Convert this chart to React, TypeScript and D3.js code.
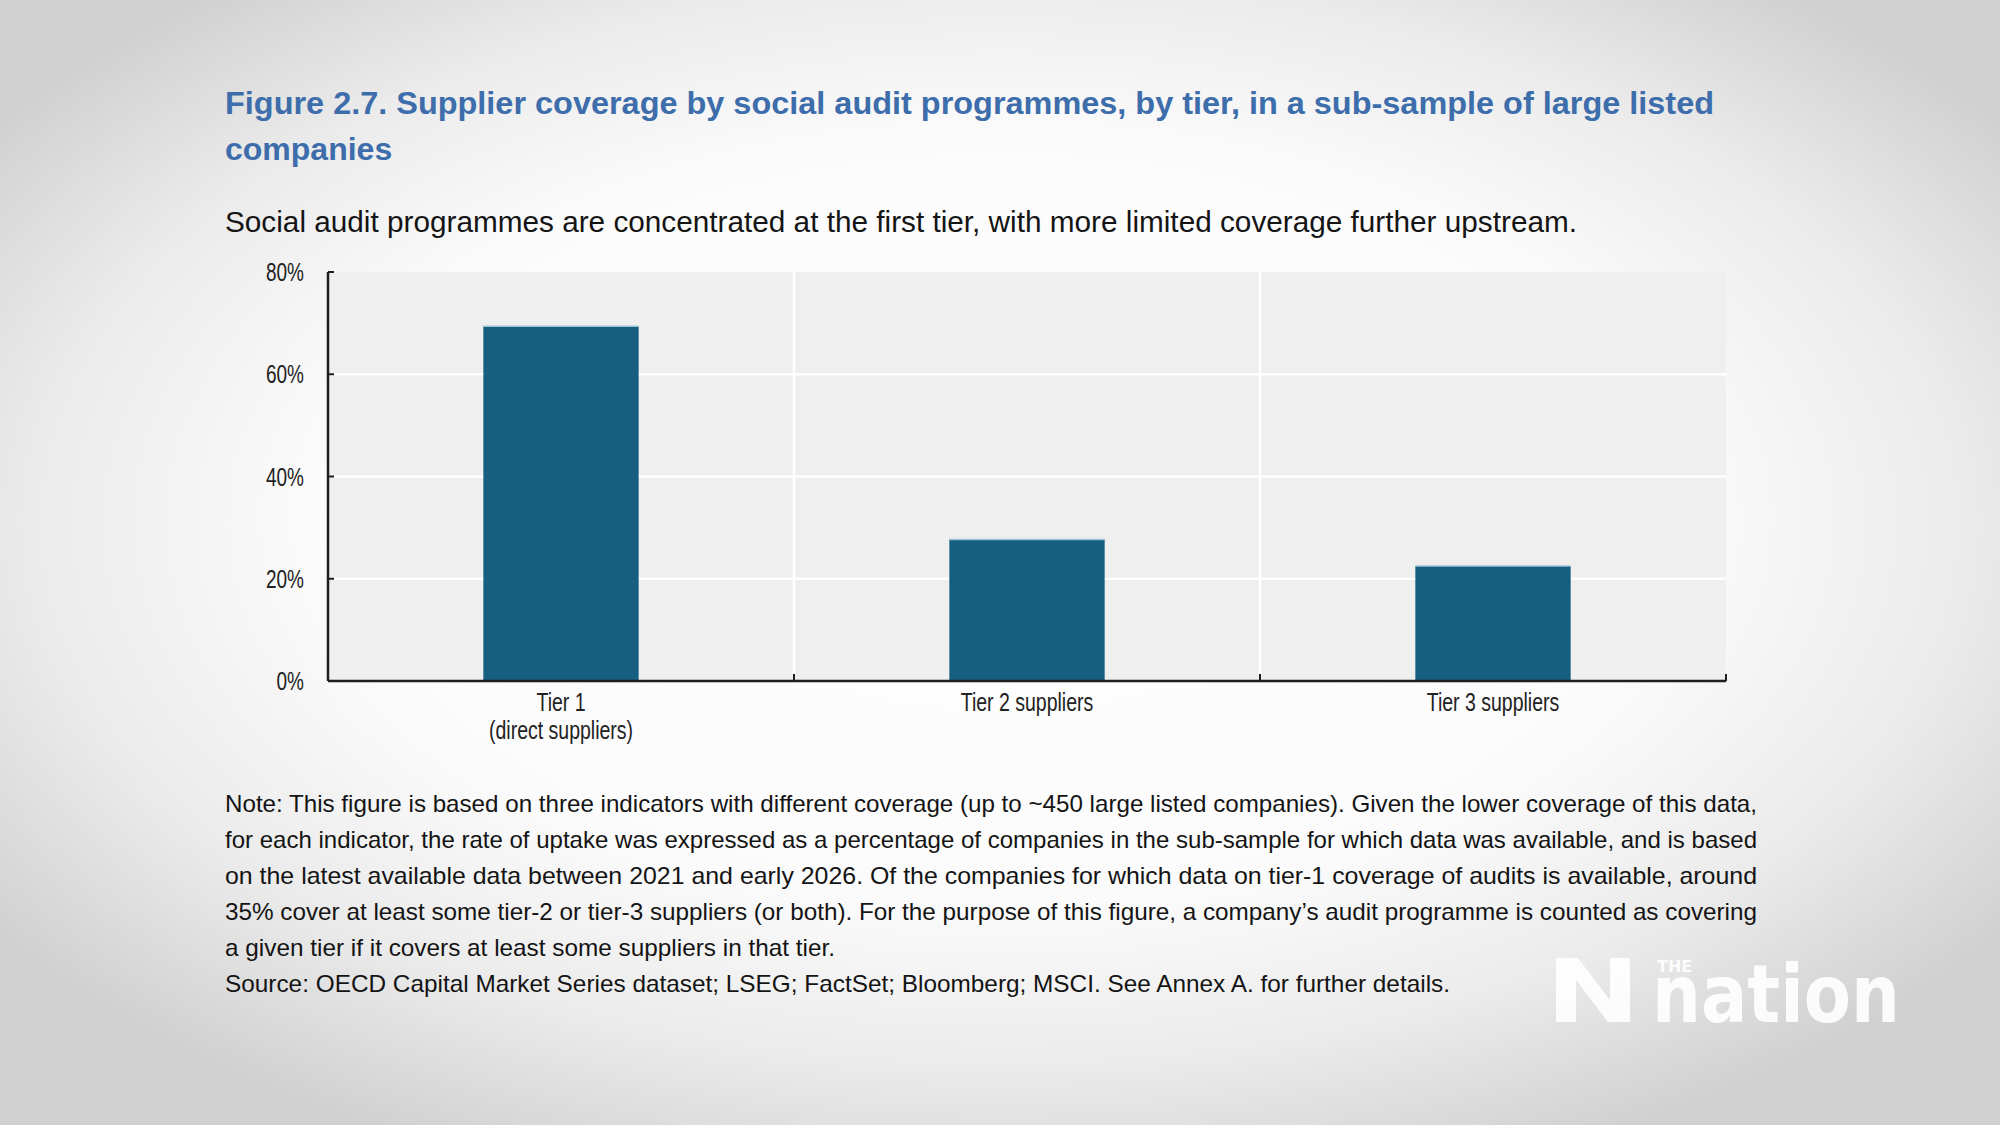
import React from "react";
import * as d3 from "d3";

const TITLE_LINES = [
  "Figure 2.7. Supplier coverage by social audit programmes, by tier, in a sub-sample of large listed",
  "companies",
];
const SUBTITLE =
  "Social audit programmes are concentrated at the first tier, with more limited coverage further upstream.";

const categories = ["Tier 1", "Tier 2 suppliers", "Tier 3 suppliers"];
const categorySubLabels = ["(direct suppliers)", "", ""];
const values = [69.4, 27.7, 22.5];
const yTicks = [0, 20, 40, 60, 80];

const NOTE_LINES = [
  "Note: This figure is based on three indicators with different coverage (up to ~450 large listed companies). Given the lower coverage of this data,",
  "for each indicator, the rate of uptake was expressed as a percentage of companies in the sub-sample for which data was available, and is based",
  "on the latest available data between 2021 and early 2026. Of the companies for which data on tier-1 coverage of audits is available, around",
  "35% cover at least some tier-2 or tier-3 suppliers (or both). For the purpose of this figure, a company\u2019s audit programme is counted as covering",
  "a given tier if it covers at least some suppliers in that tier.",
  "Source: OECD Capital Market Series dataset; LSEG; FactSet; Bloomberg; MSCI. See Annex A. for further details.",
];
const NOTE_WIDTHS = [1532, 1532, 1532, 1532, 610, 1225];

const W = 2000;
const H = 1125;
const FONT = "'Liberation Sans', Arial, Helvetica, sans-serif";

export default function App() {
  const plotLeft = 328;
  const plotRight = 1726;
  const plotTop = 272;
  const plotBottom = 681;

  const y = d3.scaleLinear().domain([0, 80]).range([plotBottom, plotTop]);
  const x = d3.scaleBand<string>().domain(categories).range([plotLeft, plotRight]).padding(0);
  const bw = x.bandwidth();
  const barW = bw / 3;

  const boundaries = categories.map((c) => (x(c) as number) + bw);

  return (
    <svg
      width={W}
      height={H}
      viewBox={`0 0 ${W} ${H}`}
      style={{ position: "absolute", left: 0, top: 0, display: "block" }}
      fontFamily={FONT}
    >
      <defs>
        <radialGradient id="bg" cx="0.5" cy="0.47" r="0.62" fx="0.5" fy="0.45">
          <stop offset="0" stopColor="#ffffff" />
          <stop offset="0.55" stopColor="#fbfbfb" />
          <stop offset="0.78" stopColor="#ebebeb" />
          <stop offset="1" stopColor="#d0d0d0" />
        </radialGradient>
      </defs>
      <rect x={0} y={0} width={W} height={H} fill="url(#bg)" />

      {/* Title */}
      <text x={225} y={114} fontSize={32} fontWeight="bold" fill="#3d6dab" textLength={1489} lengthAdjust="spacingAndGlyphs">
        {TITLE_LINES[0]}
      </text>
      <text x={225} y={160} fontSize={32} fontWeight="bold" fill="#3d6dab">
        {TITLE_LINES[1]}
      </text>

      {/* Subtitle */}
      <text x={225} y={232} fontSize={30} fill="#141414" textLength={1352} lengthAdjust="spacingAndGlyphs">
        {SUBTITLE}
      </text>

      {/* Plot background */}
      <rect x={plotLeft} y={plotTop} width={plotRight - plotLeft} height={plotBottom - plotTop} fill="#efefef" />

      {/* Horizontal gridlines */}
      {yTicks.filter((t) => t > 0 && t < 80).map((t) => (
        <line key={`g${t}`} x1={plotLeft} x2={plotRight} y1={y(t)} y2={y(t)} stroke="#ffffff" strokeWidth={2.5} />
      ))}
      {/* Vertical category dividers */}
      {boundaries.slice(0, -1).map((bx, i) => (
        <line key={`v${i}`} x1={bx} x2={bx} y1={plotTop} y2={plotBottom} stroke="#ffffff" strokeWidth={2.5} />
      ))}

      {/* Bars */}
      {categories.map((c, i) => {
        const cx = (x(c) as number) + bw / 2;
        const top = y(values[i]);
        return (
          <g key={c}>
            <rect x={cx - barW / 2} y={top} width={barW} height={plotBottom - top} fill="#175f80" />
            <line x1={cx - barW / 2} x2={cx + barW / 2} y1={top} y2={top} stroke="#9cc3d6" strokeWidth={1.5} />
          </g>
        );
      })}

      {/* Y axis */}
      <line x1={plotLeft} x2={plotLeft} y1={plotTop} y2={plotBottom} stroke="#1e1e1e" strokeWidth={2.5} />
      {yTicks.map((t) => (
        <g key={`yt${t}`}>
          <line x1={plotLeft} x2={plotLeft + 6} y1={y(t)} y2={y(t)} stroke="#1e1e1e" strokeWidth={2} />
          <text
            transform={`translate(304, ${y(t) + 9}) scale(0.76, 1)`}
            textAnchor="end"
            fontSize={25}
            fill="#222222"
          >
            {`${t}%`}
          </text>
        </g>
      ))}

      {/* X axis */}
      <line x1={plotLeft} x2={plotRight} y1={plotBottom} y2={plotBottom} stroke="#1e1e1e" strokeWidth={2.5} />
      {boundaries.map((bx, i) => (
        <line key={`xt${i}`} x1={bx} x2={bx} y1={plotBottom} y2={plotBottom - 7} stroke="#1e1e1e" strokeWidth={2} />
      ))}
      {categories.map((c, i) => {
        const cx = (x(c) as number) + bw / 2;
        return (
          <g key={`xl${i}`}>
            <text transform={`translate(${cx}, 711) scale(0.78, 1)`} textAnchor="middle" fontSize={25} fill="#222222">
              {c}
            </text>
            {categorySubLabels[i] && (
              <text transform={`translate(${cx}, 739) scale(0.78, 1)`} textAnchor="middle" fontSize={25} fill="#222222">
                {categorySubLabels[i]}
              </text>
            )}
          </g>
        );
      })}

      {/* Notes */}
      {NOTE_LINES.map((line, i) => (
        <text
          key={`n${i}`}
          x={225}
          y={812 + i * 36}
          fontSize={24}
          fill="#141414"
          textLength={NOTE_WIDTHS[i]}
          lengthAdjust="spacingAndGlyphs"
        >
          {line}
        </text>
      ))}

      {/* Watermark logo */}
      <g opacity={0.92} fill="#ffffff">
        <polygon points="1556,958 1578,958 1610,1000 1610,958 1630,958 1630,1022 1608,1022 1576,980 1576,1022 1556,1022" />
        <rect x={1556} y={994} width={12} height={28} />
        <text fill="#ffffff" fontFamily="'DejaVu Sans', sans-serif" fontWeight="bold">
          <tspan x={1657} y={972} fontSize={16}>THE</tspan>
          <tspan x={1652} y={1022} fontSize={80} textLength={248} lengthAdjust="spacingAndGlyphs">nation</tspan>
        </text>
      </g>
    </svg>
  );
}
